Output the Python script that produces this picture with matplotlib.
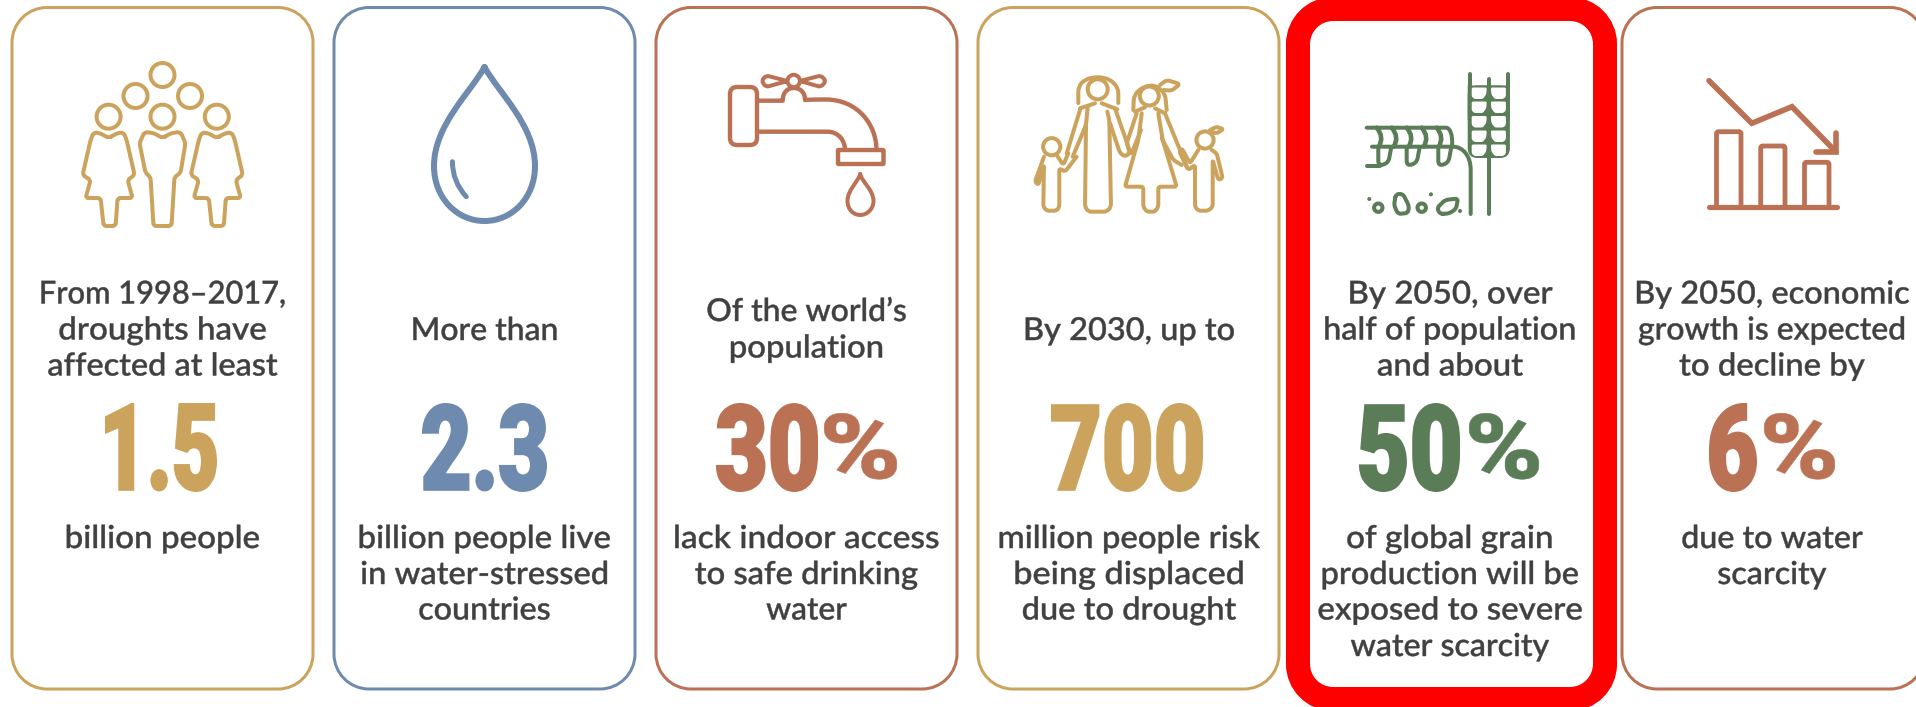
import numpy as np
import matplotlib
matplotlib.use("Agg")
import matplotlib.pyplot as plt
import matplotlib.patheffects as pe
from matplotlib.font_manager import FontProperties
from matplotlib.patches import Circle, Ellipse, PathPatch
from matplotlib.path import Path
from matplotlib.textpath import TextPath
from matplotlib.transforms import Affine2D

W, H = 1916, 707
TAN = "#CBA35C"
BLUE = "#6F8AAF"
RUST = "#BB7154"
GREEN = "#5A7C56"
INK = "#404040"
RED = "#FF0000"

# card contents, left to right
card_left = [12, 334, 656, 978, 1298, 1622]
card_right = [313, 635, 957, 1279, 1605, 1925]
card_color = [TAN, BLUE, RUST, TAN, RED, RUST]
number_colors = [TAN, BLUE, RUST, TAN, GREEN, RUST]
text_center = [162.5, 484.5, 806.5, 1129, 1450, 1772]
top_lines = [
    ["From 1998\u20132017,", "droughts have", "affected at least"],
    ["More than"],
    ["Of the world\u2019s", "population"],
    ["By 2030, up to"],
    ["By 2050, over", "half of population", "and about"],
    ["By 2050, economic", "growth is expected", "to decline by"],
]
top_widths = [[243, 206, 229], [143], [198, 151], [208], [202, 249, 145], [272, 265, 185]]
bottom_lines = [
    ["billion people"],
    ["billion people live", "in water-stressed", "countries"],
    ["lack indoor access", "to safe drinking", "water"],
    ["million people risk", "being displaced", "due to drought"],
    ["of global grain", "production will be", "exposed to severe", "water scarcity"],
    ["due to water", "scarcity"],
]
bottom_widths = [[192], [250, 245, 130], [263, 222, 80], [260, 227, 213], [204, 255, 263, 198], [180, 108]]
big_numbers = ["1.5", "2.3", "30", "700", "50", "6"]
big_x = [(105, 217), (422, 547), (716, 818), (1051, 1203), (1359, 1460), (1709, 1757)]
percent_x = [None, None, (824, 897), None, (1469, 1539), (1764, 1835)]
top_baselines = {1: [340], 2: [321, 357.5], 3: [303.5, 339.5, 375.5]}
bottom_baselines = [548, 584, 619.5, 656]


class Squeeze(pe.AbstractPathEffect):
    # narrows a glyph run around its anchor and thickens it with a stroke
    def __init__(self, sx, anchor, stroke=0.0):
        super().__init__()
        self.sx = sx
        self.anchor = anchor
        self.stroke = stroke

    def draw_path(self, renderer, gc, tpath, affine, rgbFace):
        a = affine + Affine2D().translate(-self.anchor, 0).scale(self.sx, 1).translate(self.anchor, 0)
        gc0 = renderer.new_gc()
        gc0.copy_properties(gc)
        gc0.set_linewidth(self.stroke)
        gc0.set_foreground(rgbFace)
        gc0.set_joinstyle("miter")
        renderer.draw_path(gc0, tpath, a, rgbFace)
        gc0.restore()


fig = plt.figure(figsize=(W / 100, H / 100), dpi=100)
ax = fig.add_axes([0, 0, 1, 1])
ax.set_xlim(0, W)
ax.set_ylim(H, 0)
ax.axis("off")
renderer = fig.canvas.get_renderer()


def lw(p):
    return p * 0.72


def fit_text(s, x0, x1, top, bottom, color, stroke_px=0.0):
    # real text, sized so its ink fills the given box
    fp = FontProperties(family="Roboto", weight="black")
    box = TextPath((0, 0), s, size=100, prop=fp).get_extents()
    inner_h = bottom - top - stroke_px
    inner_w = x1 - x0 - stroke_px
    k = inner_h / box.height
    sx = inner_w / (box.width * k)
    t = ax.text(x1, bottom - stroke_px / 2 + box.y0 * k, s, fontproperties=fp, fontsize=100 * k * 0.72,
                color=color, ha="right", va="baseline")
    w = t.get_window_extent(renderer).width
    anchor = x0 + stroke_px / 2 + (w - box.x0 * k) * sx
    t.set_x(anchor)
    t.set_path_effects([Squeeze(sx, anchor, lw(stroke_px))])


def body_line(s, xc, y, width):
    fp = FontProperties(family="Lato", weight="medium")
    em = 31.5
    box = TextPath((0, 0), s, size=100, prop=fp).get_extents()
    sx = width / (box.width * em / 100)
    t = ax.text(xc, y, s, fontproperties=fp, fontsize=em * 0.72, color=INK, ha="center", va="baseline")
    t.set_path_effects([Squeeze(sx, xc, lw(0.45))])


def smooth(pts, r=3, closed=True):
    # polyline with its corners rounded off by quadratic curves
    pts = [np.array(p, float) for p in pts]
    n = len(pts)
    verts, codes = [], []
    idx = range(n) if closed else range(1, n - 1)
    if not closed:
        verts.append(pts[0])
        codes.append(Path.MOVETO)
    for i in idx:
        p, a, b = pts[i], pts[(i - 1) % n], pts[(i + 1) % n]
        ra = min(r, np.linalg.norm(a - p) / 2)
        rb = min(r, np.linalg.norm(b - p) / 2)
        p1 = p + (a - p) / np.linalg.norm(a - p) * ra
        p2 = p + (b - p) / np.linalg.norm(b - p) * rb
        first = not verts
        verts += [p1, p, p2]
        codes += [Path.MOVETO if first else Path.LINETO, Path.CURVE3, Path.CURVE3]
    verts.append(verts[0] if closed else pts[-1])
    codes.append(Path.LINETO)
    return Path(verts, codes)


def stroke(path, color, width=3.0):
    ax.add_patch(PathPatch(path, fill=False, ec=color, lw=lw(width), capstyle="round", joinstyle="round"))


def poly(pts, color, width=3.0, r=3, closed=True):
    stroke(smooth(pts, r, closed), color, width)


def blob(pts, color, r=3, z=3):
    ax.add_patch(PathPatch(smooth(pts, r, True), fc=color, ec="none", lw=0, zorder=z))


def curve(segs, color, width=3.0):
    # segs: start point, then triples of cubic controls
    verts = [segs[0]]
    codes = [Path.MOVETO]
    for c in segs[1:]:
        verts += list(c)
        codes += [Path.CURVE4] * 3
    stroke(Path(verts, codes), color, width)


def quad(a, c, b, color, width=3.0):
    stroke(Path([a, c, b], [Path.MOVETO, Path.CURVE3, Path.CURVE3]), color, width)


def seg(xs, ys, color, width=3.0):
    ax.plot(xs, ys, color=color, lw=lw(width), solid_capstyle="round", solid_joinstyle="miter")


def ring(x, y, r, color, width=3.0):
    ax.add_patch(Ellipse((x, y), 2 * r, 2 * r, fill=False, ec=color, lw=lw(width)))


def card(x0, y0, x1, y1, color, width):
    # rounded frame, white inside so the sixth card's curves survive the canvas edge
    r = 35
    k = r * (1 - 0.5523)
    verts = [(x0 + r, y0), (x1 - r, y0),
             (x1 - k, y0), (x1, y0 + k), (x1, y0 + r), (x1, y1 - r),
             (x1, y1 - k), (x1 - k, y1), (x1 - r, y1), (x0 + r, y1),
             (x0 + k, y1), (x0, y1 - k), (x0, y1 - r), (x0, y0 + r),
             (x0, y0 + k), (x0 + k, y0), (x0 + r, y0), (x0 + r, y0)]
    codes = [Path.MOVETO, Path.LINETO] + [Path.CURVE4] * 3 + [Path.LINETO] + [Path.CURVE4] * 3 + [Path.LINETO] \
        + [Path.CURVE4] * 3 + [Path.LINETO] + [Path.CURVE4] * 3 + [Path.CLOSEPOLY]
    ax.add_patch(PathPatch(Path(verts, codes), fc="white", ec=color, lw=lw(width), zorder=1, clip_on=False))


def draw_people(c):
    w = 4
    for x, y in [(162.5, 75), (135.5, 96), (190, 96), (108.6, 116.7), (162.5, 116.7), (216.8, 116.7)]:
        ring(x, y, 12, c, w)
    woman = [(0, 138), (-9, 133), (-15, 132.5), (-18, 140), (-26, 175), (-18, 180), (-23, 198), (-8, 198),
             (-5, 226), (7, 226), (9, 198), (24, 198), (19, 180), (26, 175), (18, 140), (15, 132.5), (9, 133)]
    for cx in (108.6, 216.8):
        poly([(cx + x, y) for x, y in woman], c, w, r=3)
    man = [(0, 138), (-9, 133), (-18, 132), (-23, 143), (-17, 173), (-12, 177), (-9, 226), (9, 226),
           (12, 177), (18, 173), (23, 143), (18, 132), (9, 133)]
    poly([(162.5 + x, y) for x, y in man], c, w, r=3)


def draw_drop(c):
    curve([(484.5, 67), ((498, 92), (535, 125), (535, 166)), ((535, 198), (512, 221), (484.5, 221)),
           ((457, 221), (434, 198), (434, 166)), ((434, 125), (471, 92), (484.5, 67))], c, 6)
    quad((452.4, 161.7), (452.5, 182), (466.3, 196.7), c, 5)


def draw_tap(c):
    poly([(730, 87), (757, 87), (757, 145), (730, 145)], c, 4.4, r=7)
    curve([(757, 100.7), ((765, 100.7), (775, 100.7), (782.7, 100.7)),
           ((782.7, 92), (788, 88), (793.7, 88)), ((800, 88), (805, 92), (805, 100)),
           ((812, 99.5), (818, 99.5), (825.5, 99.5)), ((858, 99.5), (876.5, 125), (876.5, 150))], c, 4.4)
    curve([(757, 131.7), ((780, 131.7), (805, 131.7), (827.5, 131.7)), ((838, 131.7), (845, 140), (845, 150))], c, 4.4)
    poly([(838, 150), (883.5, 150), (883.5, 164), (838, 164)], c, 4.4, r=0.5)
    ring(793.7, 81, 6.2, c, 4)
    poly([(787.5, 81), (766, 75.5), (761.5, 81), (766, 87)], c, 4, r=3)
    poly([(800, 81), (821, 75.5), (826, 81), (821, 87)], c, 4, r=3)
    curve([(860.2, 174), ((862, 182), (873.5, 190), (873.5, 201)), ((873.5, 209), (867, 215), (860.2, 215)),
           ((853, 215), (847.5, 209), (847.5, 201)), ((847.5, 190), (858, 182), (860.2, 174))], c, 4)


def draw_family(c):
    w = 4
    # tall figure with long hair
    ring(1097.7, 89.3, 10, c, w)
    poly([(1078.3, 103), (1078.3, 86.7), (1085, 79.3), (1097.7, 76.7), (1110, 79.3), (1118.3, 88), (1118.3, 103)],
         c, w, r=5, closed=False)
    seg([1080, 1095], [108.3, 103.3], c, w)
    seg([1101.7, 1117.3], [103.3, 109.3], c, w)
    seg([1080, 1066.7], [110, 153.3], c, w)
    poly([(1087.7, 106.7), (1086, 125), (1072.7, 156.7)], c, w, closed=False)
    poly([(1086, 125), (1085, 206.7), (1088.3, 211.7), (1106.7, 211.7), (1111, 206.7), (1109.3, 120), (1107.3, 111.7)],
         c, w, r=3, closed=False)
    poly([(1115, 108.3), (1128.3, 146.7), (1130, 153), (1125, 156.7), (1120, 153), (1110, 123.3)], c, w, r=3, closed=False)
    # figure in a dress
    ring(1149.3, 96, 9.5, c, w)
    poly([(1133.3, 110), (1134, 95), (1143.3, 86.7), (1155, 85), (1165, 93.3), (1166.7, 110)], c, w, r=5, closed=False)
    poly([(1160, 85), (1166.7, 80), (1180, 84), (1171.7, 90.7), (1164, 90)], c, w, r=3, closed=False)
    seg([1135, 1145], [111.7, 107.3], c, w)
    seg([1155, 1165], [108.3, 113.3], c, w)
    poly([(1141.7, 113.3), (1138.3, 140), (1125, 186.7), (1143.3, 186.7), (1143.3, 206.7), (1146.7, 211.7),
          (1155, 211.7), (1158.3, 206.7), (1158.3, 186.7), (1176.7, 186.7), (1162.7, 140), (1158.3, 113.3)],
         c, w, r=2.5, closed=False)
    poly([(1136.7, 113.3), (1126.7, 143.3), (1130, 153)], c, w, closed=False)
    seg([1141, 1131.7], [130, 153], c, w)
    poly([(1165, 113.3), (1180, 150), (1186.7, 166.7)], c, w, closed=False)
    poly([(1161.7, 138.3), (1173.3, 160), (1181.7, 165)], c, w, closed=False)
    # small figures holding hands
    ring(1051.7, 146.7, 8.6, c, w)
    poly([(1044, 156.7), (1035, 181.7), (1038.3, 185), (1044, 165), (1043.3, 206.7), (1046.7, 210.7),
          (1056.7, 210.7), (1059.3, 206.7), (1059.3, 168.3), (1065, 171.7), (1076.7, 156.7)], c, w, r=2.5, closed=False)
    poly([(1068.3, 153.3), (1063.3, 165), (1057.3, 156)], c, w, closed=False)
    ring(1205, 140, 8.6, c, w)
    poly([(1210, 130), (1216.7, 126.7), (1223.3, 129.3), (1216.7, 133.3), (1212, 132)], c, w, r=2, closed=False)
    poly([(1198.3, 150), (1190, 163.3), (1181.7, 148.3), (1179.3, 151.7), (1188.3, 170), (1195, 165), (1195, 206.7),
          (1198.3, 210.7), (1208.3, 210.7), (1212.7, 206.7), (1212.7, 160), (1218.3, 180), (1222.7, 178.3),
          (1216.7, 153.3), (1211.7, 150)], c, w, r=2.5, closed=False)


def draw_wheat(c):
    w = 4
    # upright ear: solid head with the leaf gaps cut out of it
    seg([1488.8, 1488.8], [79, 214], c, w)
    seg([1469.7, 1469.7], [74.3, 100], c, w)
    seg([1507.9, 1507.9], [74.3, 100], c, w)
    blob([(1467.7, 85.5), (1509.9, 85.5), (1509.9, 158), (1467.7, 158)], c, r=10)
    blob([(1467.7, 85.5), (1509.9, 85.5), (1509.9, 120), (1467.7, 120)], c, r=0.1)
    for yt in (87.5, 101.5, 116, 130.5, 144.5):
        for sign in (-1, 1):
            cell = [(17.1, yt), (2, yt), (2.6, yt + 7), (6, yt + 11.5), (14.5, yt + 11.5), (17.1, yt + 9)]
            blob([(1488.8 + sign * dx, y) for dx, y in cell], "white", r=1.5, z=4)
    # leaning ear
    curve([(1366.7, 127.7), ((1395, 127.7), (1420, 127.7), (1446, 127.7)), ((1450, 127.7), (1453, 135), (1452, 146))], c, w)
    curve([(1372, 146.7), ((1400, 146.7), (1430, 146.7), (1453, 146.7)), ((1463, 146.7), (1470.7, 156), (1470.7, 170)),
           ((1470.7, 185), (1470.7, 200), (1470.7, 214))], c, w)
    seg([1366.7, 1380], [165.7, 165.7], c, w)
    for x in (1376.7, 1391.7, 1406.7, 1421.7, 1436.7):
        quad((x, 127.7), (x + 8, 137), (x + 2, 146.7), c, w + 0.6)
    for x in (1378.3, 1406.7, 1438.3):
        poly([(x, 147), (x, 166), (x + 10, 163), (x + 13, 147)], c, w, r=5, closed=False)
    # seeds on the ground
    ring(1378.3, 207.7, 4.2, c, w)
    ring(1421.7, 207.7, 4.2, c, w)
    poly([(1396, 194), (1403, 194), (1409, 206), (1408, 213), (1398, 214), (1394, 205)], c, w, r=3)
    poly([(1440, 214), (1437, 208), (1445, 200), (1458, 198.5), (1456, 209), (1449, 213.5)], c, w, r=3)
    for x, y in [(1369.3, 199), (1431, 194.3), (1460, 211)]:
        ax.add_patch(Circle((x, y), 2, color=c, lw=0))


def draw_chart(c):
    seg([1709, 1836.6], [207, 207], c, 5.2)
    for x0, x1, top in [(1716.5, 1741, 131.7), (1760.7, 1785, 146), (1804.5, 1829, 162.3)]:
        poly([(x0, 207), (x0, top), (x1, top), (x1, 207)], c, 4.8, r=2, closed=False)
    seg([1709, 1751.8, 1792, 1835.8], [80.7, 123.3, 106.7, 151.7], c, 5.6)
    seg([1835.8, 1835.8, 1816.3], [132.7, 151.7, 151.7], c, 5.6)


# card frames, the fifth one drawn as the thick red highlight
for i in range(6):
    if i == 4:
        card(card_left[i], 9, card_right[i], 699, card_color[i], 24)
    else:
        card(card_left[i], 7.5, card_right[i], 689, card_color[i], 3)

draw_people(TAN)
draw_drop(BLUE)
draw_tap(RUST)
draw_family(TAN)
draw_wheat(GREEN)
draw_chart(RUST)

for i in range(6):
    for s, y, wd in zip(top_lines[i], top_baselines[len(top_lines[i])], top_widths[i]):
        body_line(s, text_center[i], y, wd)
    for s, y, wd in zip(bottom_lines[i], bottom_baselines, bottom_widths[i]):
        body_line(s, text_center[i], y, wd)
    x0, x1 = big_x[i]
    fit_text(big_numbers[i], x0, x1, 403, 492, number_colors[i], stroke_px=2.5)
    if percent_x[i]:
        fit_text("%", percent_x[i][0], percent_x[i][1], 413, 479.5, number_colors[i], stroke_px=0.5)

fig.savefig("out.png", dpi=100, facecolor="white")
